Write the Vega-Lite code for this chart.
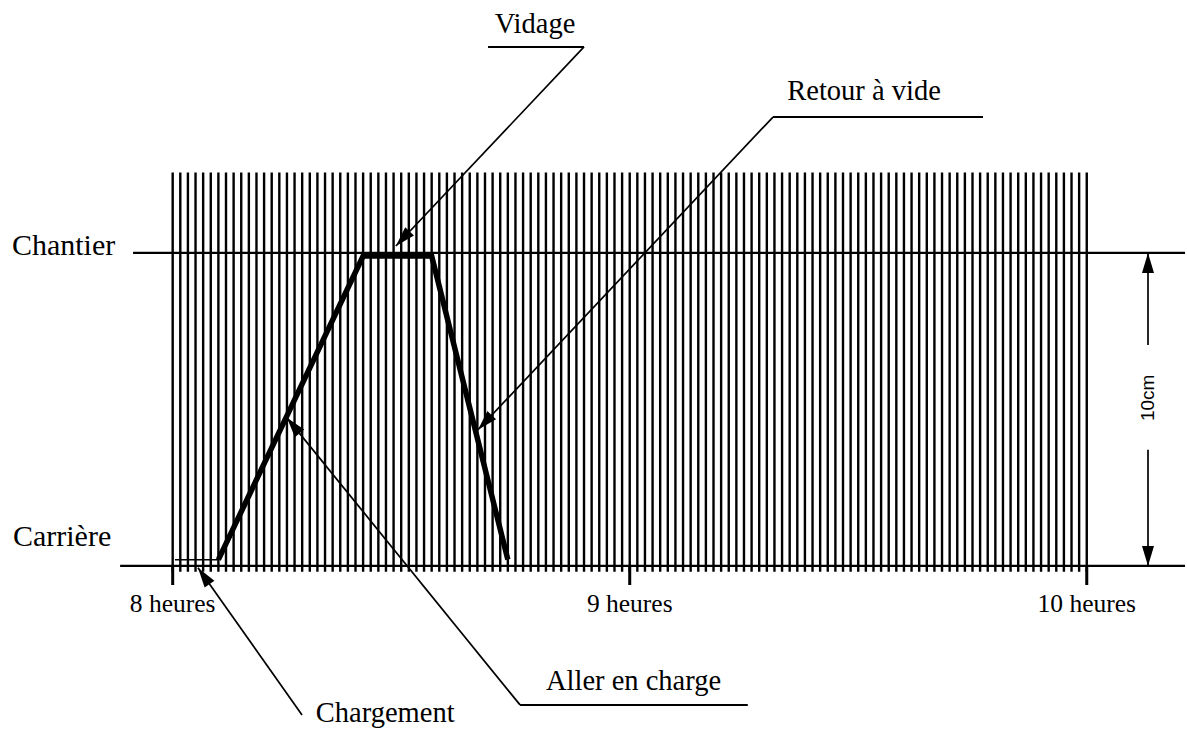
{
  "$schema": "https://vega.github.io/schema/vega-lite/v6.json",
  "width": 1187,
  "height": 729,
  "padding": 0,
  "autosize": {"type": "none"},
  "background": "white",
  "config": {"view": {"stroke": null}, "font": "Liberation Serif"},
  "datasets": {
    "minutes": [{"m":0},{"m":1},{"m":2},{"m":3},{"m":4},{"m":5},{"m":6},{"m":7},{"m":8},{"m":9},{"m":10},{"m":11},{"m":12},{"m":13},{"m":14},{"m":15},{"m":16},{"m":17},{"m":18},{"m":19},{"m":20},{"m":21},{"m":22},{"m":23},{"m":24},{"m":25},{"m":26},{"m":27},{"m":28},{"m":29},{"m":30},{"m":31},{"m":32},{"m":33},{"m":34},{"m":35},{"m":36},{"m":37},{"m":38},{"m":39},{"m":40},{"m":41},{"m":42},{"m":43},{"m":44},{"m":45},{"m":46},{"m":47},{"m":48},{"m":49},{"m":50},{"m":51},{"m":52},{"m":53},{"m":54},{"m":55},{"m":56},{"m":57},{"m":58},{"m":59},{"m":60},{"m":61},{"m":62},{"m":63},{"m":64},{"m":65},{"m":66},{"m":67},{"m":68},{"m":69},{"m":70},{"m":71},{"m":72},{"m":73},{"m":74},{"m":75},{"m":76},{"m":77},{"m":78},{"m":79},{"m":80},{"m":81},{"m":82},{"m":83},{"m":84},{"m":85},{"m":86},{"m":87},{"m":88},{"m":89},{"m":90},{"m":91},{"m":92},{"m":93},{"m":94},{"m":95},{"m":96},{"m":97},{"m":98},{"m":99},{"m":100},{"m":101},{"m":102},{"m":103},{"m":104},{"m":105},{"m":106},{"m":107},{"m":108},{"m":109},{"m":110},{"m":111},{"m":112},{"m":113},{"m":114},{"m":115},{"m":116},{"m":117},{"m":118},{"m":119},{"m":120}],
    "levels": [{"lieu": "Chantier", "cm": 10}, {"lieu": "Carrière", "cm": 0}],
    "trajet": [{"m": 6, "cm": 0.2}, {"m": 25, "cm": 9.9}, {"m": 34, "cm": 9.9}, {"m": 44, "cm": 0.2}],
    "chargement": [{"m": 0.3, "cm": 0.2}, {"m": 6, "cm": 0.2}],
    "hours": [{"m": 0, "label": "8 heures"}, {"m": 60, "label": "9 heures"}, {"m": 120, "label": "10 heures"}],
    "notes": [
      {"label": "Vidage", "tm": 47.57, "tcm": 17.03, "u1": 41.4, "u2": 54.0, "ucm": 16.58, "am": 54.0, "acm": 16.58, "bm": 29.3, "bcm": 10.22},
      {"label": "Retour à vide", "tm": 90.76, "tcm": 14.89, "u1": 78.81, "u2": 106.38, "ucm": 14.34, "am": 78.81, "acm": 14.34, "bm": 40.08, "bcm": 4.35},
      {"label": "Aller en charge", "tm": 60.5, "tcm": -3.96, "u1": 45.6, "u2": 75.5, "ucm": -4.44, "am": 45.6, "acm": -4.44, "bm": 15.0, "bcm": 4.73},
      {"label": "Chargement", "tm": 27.9, "tcm": -4.98, "am": 16.98, "acm": -4.76, "bm": 3.32, "bcm": -0.06},
      {"label": "", "am": 128.04, "acm": 7.06, "bm": 128.04, "bcm": 10.0},
      {"label": "", "am": 128.04, "acm": 3.71, "bm": 128.04, "bcm": 0.0}
    ],
    "dim": [{"label": "10cm", "m": 128.04, "cm": 5.37}]
  },
  "layer": [
    {
      "data": {"name": "minutes"},
      "mark": {"type": "rule", "strokeWidth": 2.4, "color": "black"},
      "encoding": {
        "x": {"field": "m", "type": "quantitative", "scale": {"domain": [-22.67, 133.16], "nice": false, "zero": false}, "axis": null},
        "y": {"datum": 12.57, "type": "quantitative", "scale": {"domain": [-5.21, 18.08], "nice": false, "zero": false}, "axis": null},
        "y2": {"datum": -0.19}
      }
    },
    {
      "data": {"name": "minutes"},
      "transform": [{"filter": "datum.m % 60 == 0"}],
      "mark": {"type": "rule", "strokeWidth": 3, "color": "black"},
      "encoding": {
        "x": {"field": "m", "type": "quantitative", "scale": {"domain": [-22.67, 133.16], "nice": false, "zero": false}, "axis": null},
        "y": {"datum": 0, "type": "quantitative", "scale": {"domain": [-5.21, 18.08], "nice": false, "zero": false}, "axis": null},
        "y2": {"datum": -0.61}
      }
    },
    {
      "data": {"name": "levels"},
      "transform": [{"filter": "datum.lieu == 'Chantier'"}],
      "mark": {"type": "rule", "strokeWidth": 2.4, "color": "black"},
      "encoding": {
        "x": {"datum": -5.2, "type": "quantitative", "scale": {"domain": [-22.67, 133.16], "nice": false, "zero": false}, "axis": null},
        "x2": {"datum": 132.9},
        "y": {"field": "cm", "type": "quantitative", "scale": {"domain": [-5.21, 18.08], "nice": false, "zero": false}, "axis": null}
      }
    },
    {
      "data": {"name": "levels"},
      "transform": [{"filter": "datum.lieu == 'Carrière'"}],
      "mark": {"type": "rule", "strokeWidth": 2.4, "color": "black"},
      "encoding": {
        "x": {"datum": -6.9, "type": "quantitative", "scale": {"domain": [-22.67, 133.16], "nice": false, "zero": false}, "axis": null},
        "x2": {"datum": 132.9},
        "y": {"field": "cm", "type": "quantitative", "scale": {"domain": [-5.21, 18.08], "nice": false, "zero": false}, "axis": null}
      }
    },
    {
      "data": {"name": "levels"},
      "transform": [{"filter": "datum.lieu == 'Chantier'"}],
      "mark": {"type": "text", "align": "left", "baseline": "alphabetic", "fontSize": 30, "dy": 2, "color": "black"},
      "encoding": {
        "x": {"datum": -21.1, "type": "quantitative", "scale": {"domain": [-22.67, 133.16], "nice": false, "zero": false}, "axis": null},
        "y": {"field": "cm", "type": "quantitative", "scale": {"domain": [-5.21, 18.08], "nice": false, "zero": false}, "axis": null},
        "text": {"field": "lieu"}
      }
    },
    {
      "data": {"name": "levels"},
      "transform": [{"filter": "datum.lieu == 'Carrière'"}],
      "mark": {"type": "text", "align": "left", "baseline": "alphabetic", "fontSize": 30, "dy": -20, "color": "black"},
      "encoding": {
        "x": {"datum": -20.97, "type": "quantitative", "scale": {"domain": [-22.67, 133.16], "nice": false, "zero": false}, "axis": null},
        "y": {"field": "cm", "type": "quantitative", "scale": {"domain": [-5.21, 18.08], "nice": false, "zero": false}, "axis": null},
        "text": {"field": "lieu"}
      }
    },
    {
      "data": {"name": "chargement"},
      "mark": {"type": "line", "strokeWidth": 1.5, "color": "black"},
      "encoding": {
        "x": {"field": "m", "type": "quantitative", "scale": {"domain": [-22.67, 133.16], "nice": false, "zero": false}, "axis": null},
        "y": {"field": "cm", "type": "quantitative", "scale": {"domain": [-5.21, 18.08], "nice": false, "zero": false}, "axis": null}
      }
    },
    {
      "data": {"name": "trajet"},
      "mark": {"type": "line", "strokeWidth": 5.5, "color": "black", "strokeJoin": "miter", "strokeCap": "butt"},
      "encoding": {
        "x": {"field": "m", "type": "quantitative", "scale": {"domain": [-22.67, 133.16], "nice": false, "zero": false}, "axis": null},
        "y": {"field": "cm", "type": "quantitative", "scale": {"domain": [-5.21, 18.08], "nice": false, "zero": false}, "axis": null},
        "order": {"field": "m", "type": "quantitative"}
      }
    },
    {
      "data": {"name": "hours"},
      "mark": {"type": "text", "align": "center", "baseline": "alphabetic", "fontSize": 25.5, "color": "black"},
      "encoding": {
        "x": {"field": "m", "type": "quantitative", "scale": {"domain": [-22.67, 133.16], "nice": false, "zero": false}, "axis": null},
        "y": {"datum": -1.47, "type": "quantitative", "scale": {"domain": [-5.21, 18.08], "nice": false, "zero": false}, "axis": null},
        "text": {"field": "label"}
      }
    },
    {
      "data": {"name": "notes"},
      "transform": [{"filter": "datum.tm != null"}],
      "mark": {"type": "text", "align": "center", "baseline": "alphabetic", "fontSize": 28.5, "color": "black"},
      "encoding": {
        "x": {"field": "tm", "type": "quantitative", "scale": {"domain": [-22.67, 133.16], "nice": false, "zero": false}, "axis": null},
        "y": {"field": "tcm", "type": "quantitative", "scale": {"domain": [-5.21, 18.08], "nice": false, "zero": false}, "axis": null},
        "text": {"field": "label"}
      }
    },
    {
      "data": {"name": "notes"},
      "transform": [{"filter": "datum.u1 != null"}],
      "mark": {"type": "rule", "strokeWidth": 2, "color": "black"},
      "encoding": {
        "x": {"field": "u1", "type": "quantitative", "scale": {"domain": [-22.67, 133.16], "nice": false, "zero": false}, "axis": null},
        "x2": {"field": "u2"},
        "y": {"field": "ucm", "type": "quantitative", "scale": {"domain": [-5.21, 18.08], "nice": false, "zero": false}, "axis": null}
      }
    },
    {
      "data": {"name": "notes"},
      "mark": {"type": "rule", "strokeWidth": 1.7, "color": "black"},
      "encoding": {
        "x": {"field": "am", "type": "quantitative", "scale": {"domain": [-22.67, 133.16], "nice": false, "zero": false}, "axis": null},
        "x2": {"field": "bm"},
        "y": {"field": "acm", "type": "quantitative", "scale": {"domain": [-5.21, 18.08], "nice": false, "zero": false}, "axis": null},
        "y2": {"field": "bcm"}
      }
    },
    {
      "data": {"name": "notes"},
      "transform": [{"calculate": "atan2((datum.bm - datum.am) * 7.617, (datum.bcm - datum.acm) * 31.3) * 180 / PI", "as": "ang"}],
      "mark": {"type": "point", "shape": "M0,0L0.3,1L-0.3,1Z", "filled": true, "size": 1600, "color": "black", "opacity": 1, "strokeWidth": 0},
      "encoding": {
        "x": {"field": "bm", "type": "quantitative", "scale": {"domain": [-22.67, 133.16], "nice": false, "zero": false}, "axis": null},
        "y": {"field": "bcm", "type": "quantitative", "scale": {"domain": [-5.21, 18.08], "nice": false, "zero": false}, "axis": null},
        "angle": {"field": "ang", "type": "quantitative", "scale": null}
      }
    },
    {
      "data": {"name": "dim"},
      "mark": {"type": "text", "align": "center", "baseline": "middle", "fontSize": 19, "font": "Liberation Sans", "angle": 270, "color": "black"},
      "encoding": {
        "x": {"field": "m", "type": "quantitative", "scale": {"domain": [-22.67, 133.16], "nice": false, "zero": false}, "axis": null},
        "y": {"field": "cm", "type": "quantitative", "scale": {"domain": [-5.21, 18.08], "nice": false, "zero": false}, "axis": null},
        "text": {"field": "label"}
      }
    }
  ]
}
